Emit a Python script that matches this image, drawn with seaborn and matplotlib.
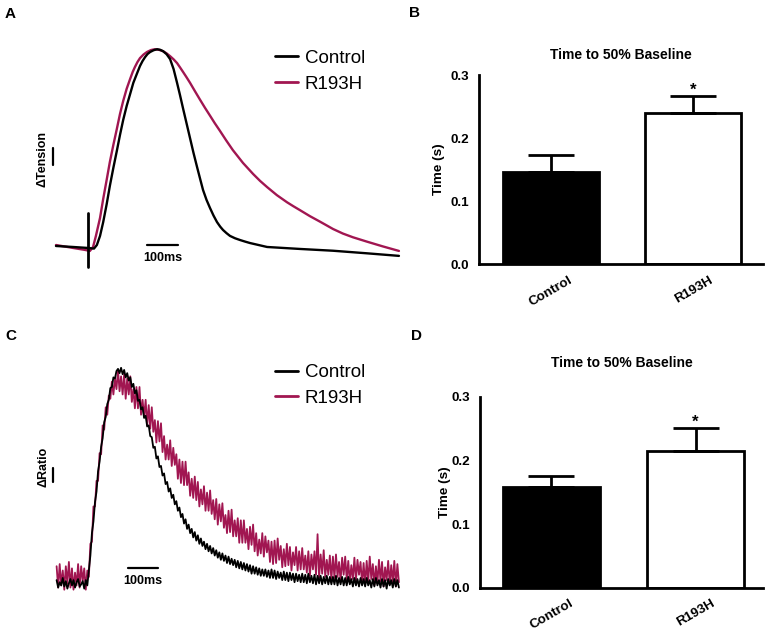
import numpy as np
import pandas as pd
import matplotlib
matplotlib.use("Agg")
import matplotlib.pyplot as plt
import seaborn as sns

# ---------------- data ----------------
groups = ["Control", "R193H"]

# Panel A: normalised tension traces (% of peak) vs time (ms)
ctrlA_t = [-101, -47, 0, 19, 28, 38, 48, 59, 69, 80, 91, 101, 111, 122, 133,
           143, 154, 164, 172, 180, 188, 196, 207, 218, 228, 237, 248, 259,
           270, 281, 290, 300, 311, 322, 333, 344, 354, 363, 374, 385, 396,
           407, 417, 426, 437, 448, 464, 480, 496, 511, 538, 565, 617, 669,
           773, 880, 981]
ctrlA_v = [0.5, 0, -0.5, -0.8, 1, 5.6, 12.6, 21.7, 30.9, 40, 48.6, 56.7, 64.2,
           71.3, 77.4, 83, 87.5, 91.5, 94, 96, 97.6, 98.6, 99.5, 100, 99.7, 99,
           97.5, 95, 90, 83, 77, 70, 62.5, 55, 47.5, 40.5, 34.3, 28.8, 23.8,
           19.7, 15.9, 12.6, 10.3, 8.6, 7, 5.6, 4.4, 3.5, 2.7, 2, 1, 0, -0.5,
           -1, -1.9, -3.2, -4.5]
redA_t = [-101, -47, -9, 6, 16, 25, 38, 48, 59, 69, 80, 91, 101, 111, 122, 133,
          141, 148, 156, 164, 175, 186, 199, 211, 224, 237, 248, 259, 270, 281,
          290, 300, 311, 322, 337, 353, 369, 385, 400, 416, 436, 457, 489, 521,
          543, 565, 596, 628, 648, 669, 700, 732, 752, 773, 804, 836, 858, 880,
          930, 981]
redA_v = [1, -0.5, -1.5, -2, 0, 5.6, 14.7, 24.3, 34, 43, 51.6, 59.7, 67.3, 73.8,
          80, 85, 88.5, 91, 93.5, 95.5, 97.3, 98.6, 99.6, 100, 99.7, 99, 97.9,
          96.5, 94.9, 93, 90.9, 88.5, 85.8, 83, 78.9, 74.6, 70.4, 66.4, 62.6,
          58.8, 53.9, 49, 42.5, 36.9, 33.4, 30.3, 26.2, 22.6, 20.6, 18.6, 15.6,
          12.8, 11, 9.1, 6.8, 4.9, 3.8, 2.7, 0.3, -2]
stim_t = [0, 0]
stim_v = [17.2, -10.1]

# Panel C: normalised Ca2+ ratio traces (% of peak), one sample every 5 ms from -100 ms
tC = np.arange(-100, 1016, 5)
ctrlC_v = [
    1.5, -2, 0.5, -1, 2.5, -1.5, 1, -2.5, 0, 2, -1, 1.5, -2, 0.5, 2, -1.5, -0.5, 1, -2.5, 1.5,
    -1, 6, 13, 23.5, 29, 38, 43, 52.5, 57, 64, 68, 75.5, 78, 84, 86, 91.5, 92, 96.5, 96, 99.5,
    100.5, 98.5, 101, 98, 100, 96.5, 98.5, 95, 96.5, 92, 93.5, 89, 90.5, 85.5, 86, 81.5, 82.5, 77.5, 78.5, 73.5,
    74, 69, 68.5, 63.5, 64, 58.5, 59.5, 54.5, 55, 50.5, 51.5, 46.5, 47.5, 43, 44.5, 40, 41.5, 37, 38.5, 34,
    35.5, 31, 32.5, 28, 30, 25.5, 27.5, 23.5, 25.5, 21.5, 24, 20, 22.5, 18.5, 21, 17.5, 19.5, 16, 18.5, 15,
    17.5, 14, 16.5, 13, 15.5, 12, 14.5, 11, 14, 10.5, 13, 9.5, 12.5, 9, 11.5, 8.5, 11, 7.5, 10.5, 7,
    10, 6.5, 9.5, 6, 9, 5.5, 8.5, 4.5, 8, 4.5, 7.5, 4, 7, 3.5, 6.5, 3.5, 6.5, 3, 6, 2.5,
    6.5, 2.5, 6, 2, 5.5, 2.5, 5, 1.5, 5.5, 1.5, 5, 1, 5, 1.5, 4.5, 0.5, 4.5, 1, 4, 0.5,
    4.5, 0.5, 4, 0, 4.5, 0.5, 3.5, 0, 4, -0.5, 3.5, 0, 3.5, -0.5, 3, 0, 3.5, -0.5, 3, -0.5,
    3, -0.5, 3.5, -1, 2.5, -0.5, 3, -1, 2.5, -1, 3, -0.5, 2, -1.5, 2.5, -1, 2, -1.5, 2.5, -1,
    2, -1.5, 2.5, -1, 1.5, -2, 2, -1.5, 2.5, -1, 1.5, -2, 2, -1.5, 1.5, -2.5, 2, -1, 1.5, -2,
    2, -1.5, 1.5, -2]
redC_v = [
    8, -2, 9, -1, 6, -3, 8, 0, 10, -2, 7, -3, 5, -1, 9, -2, 8, 1, 7, -3,
    6, 3, 18.5, 19.5, 36, 36, 48, 48, 61, 60.5, 74, 72, 82.5, 79, 88, 86.5, 94.5, 88.5, 96, 91,
    100, 90, 97, 88.5, 98, 86.5, 96, 88.5, 97, 85, 91, 82, 92, 82, 92, 79, 86, 78, 86, 74,
    83.5, 72.5, 82.5, 71, 76.5, 66, 76, 66.5, 75, 61.5, 69, 58, 65, 58, 67, 55, 63.5, 55.5, 60.5, 49,
    58, 47, 57, 46, 57, 46, 52, 41, 49, 40, 50, 39, 47.5, 36, 44, 37, 45.5, 34, 42.5, 34,
    43.5, 32.5, 39, 30, 39.5, 27.5, 37, 29, 37.5, 26, 32, 23.5, 34, 24, 34.5, 22, 29.5, 22, 30.5, 19,
    29.5, 19, 29.5, 19, 25.5, 16, 26.5, 18, 27.5, 15, 23.5, 13, 20.5, 14, 23.5, 12.5, 22, 14.5, 20, 10,
    19.5, 9, 20, 9.5, 21, 11, 17.5, 7.5, 16, 8, 18.5, 8.5, 17, 6, 14.5, 8.5, 17, 6, 15, 6.5,
    16.5, 6.5, 13, 5, 15, 3.5, 13.5, 6.5, 15, 4, 23, 2.5, 13.5, 4.5, 15.5, 3, 11, 4, 13, 1.5,
    12.5, 2.5, 13.5, 3, 10, 1, 12, 4, 12.5, 1.5, 10.5, 0.5, 8.5, 2, 12, 1, 11, 4, 10, -0.5,
    9.5, -0.5, 10.5, 0.5, 12.5, 2, 9, -1, 8, 0, 11, 1, 10, -1.5, 7.5, 1.5, 10.5, -0.5, 8.5, 0.5,
    10.5, -1.5, 9, 0.5]

# Panels B and D: time to 50% baseline (s), mean and SEM
timeB = [0.146, 0.239]
semB = [0.028, 0.028]
timeD = [0.158, 0.215]
semD = [0.017, 0.036]
yticks = [0.0, 0.1, 0.2, 0.3]
ytick_labels = ["0.0", "0.1", "0.2", "0.3"]

# ---------------- style ----------------
sns.set_style("white")
plt.rcParams["font.family"] = ["Liberation Sans", "DejaVu Sans"]
for key in ("text.color", "axes.labelcolor", "xtick.color", "ytick.color",
            "axes.edgecolor"):
    plt.rcParams[key] = "black"

W, H = 772, 634
RED = "#A11651"
palette = {"Control": "black", "R193H": RED}
fig = plt.figure(figsize=(W / 100, H / 100), dpi=100)


def rect(x0, y0, x1, y1):
    return [x0 / W, 1 - y1 / H, (x1 - x0) / W, (y1 - y0) / H]


def trace_panel(ax, df, lw):
    sns.lineplot(data=df, x="t", y="v", hue="group", hue_order=["R193H", "Control"],
                 palette=palette, linewidth=lw, errorbar=None, estimator=None,
                 sort=False, ax=ax)


def legend_panel(ax, y_mid):
    handles, labels = ax.get_legend_handles_labels()
    order = [labels.index("Control"), labels.index("R193H")]
    leg = ax.legend([handles[i] for i in order], [labels[i] for i in order],
                    loc="center left", bbox_to_anchor=(275 / W, 1 - y_mid / H),
                    bbox_transform=fig.transFigure, frameon=False, fontsize=13.5,
                    handlelength=1.25, handletextpad=0.35, labelspacing=0.45,
                    borderpad=0, borderaxespad=0)
    for ln in leg.get_lines():
        ln.set_linewidth(2.0)


# ---------------- Panel A ----------------
axA = fig.add_axes(rect(40, 35, 410, 280))
dfA = pd.concat([
    pd.DataFrame({"t": redA_t, "v": redA_v, "group": "R193H"}),
    pd.DataFrame({"t": ctrlA_t, "v": ctrlA_v, "group": "Control"}),
])
trace_panel(axA, dfA, 1.7)
axA.plot(stim_t, stim_v, color="black", lw=2.0)
axA.set_xlim(-151.4, 1015.9)
axA.set_ylim(-16.7, 107.2)
legend_panel(axA, 71.2)
axA.plot([185, 285], [1, 1], color="black", lw=1.6)
axA.text(235, -5.8, "100ms", ha="center", va="center", fontsize=9, fontweight="bold")
axA.plot([-110, -110], [41.5, 49.9], color="black", lw=1.6)
axA.text(-143, 44.5, "\u0394Tension", ha="center", va="center", rotation=90,
         fontsize=9, fontweight="bold")
axA.axis("off")

# ---------------- Panel C ----------------
axC = fig.add_axes(rect(40, 355, 410, 610))
dfC = pd.concat([
    pd.DataFrame({"t": tC, "v": redC_v, "group": "R193H"}),
    pd.DataFrame({"t": tC, "v": ctrlC_v, "group": "Control"}),
])
trace_panel(axC, dfC, 1.3)
axC.set_xlim(-154.1, 1051.1)
axC.set_ylim(-12.52, 107.0)
legend_panel(axC, 385.5)
axC.plot([131.6, 231.3], [7.0, 7.0], color="black", lw=1.6)
axC.text(181, 1.3, "100ms", ha="center", va="center", fontsize=9, fontweight="bold")
axC.plot([-112.7, -112.7], [47.5, 54.0], color="black", lw=1.6)
axC.text(-143, 54.5, "\u0394Ratio", ha="center", va="center", rotation=90,
         fontsize=9, fontweight="bold")
axC.axis("off")


# ---------------- Bar panels ----------------
def bar_panel(ax, vals, sems, xlim, ylabel_x, title_pad):
    df = pd.DataFrame({"group": groups, "time": vals})
    sns.barplot(data=df, x="group", y="time", hue="group", order=groups,
                palette={"Control": "black", "R193H": "white"}, edgecolor="black",
                linewidth=2, width=0.674, legend=False, ax=ax)
    ax.errorbar([0, 1], vals, yerr=[[0, 0], sems], fmt="none", ecolor="black",
                elinewidth=2, capsize=16.5, capthick=2, zorder=1)
    ax.text(1, vals[1] + sems[1] + 0.001, "*", ha="center", va="baseline",
            fontsize=12, fontweight="bold")
    ax.set_xlim(*xlim)
    ax.set_ylim(0, 0.3)
    ax.set_yticks(yticks)
    ax.set_yticklabels(ytick_labels, fontsize=9.7, fontweight="bold")
    ax.set_xticks([0, 1])
    ax.set_xticklabels(groups, rotation=30, ha="center", fontsize=9.7,
                       fontweight="bold")
    ax.set_xlabel("")
    ax.set_ylabel("Time (s)", fontsize=9.7, fontweight="bold")
    ax.yaxis.set_label_coords(ylabel_x, 0.5)
    ax.set_title("Time to 50% Baseline", fontsize=10, fontweight="bold",
                 pad=title_pad)
    sns.despine(ax=ax)
    for s in ("left", "bottom"):
        ax.spines[s].set_linewidth(2)
    ax.tick_params(width=2, length=5, direction="out", pad=2)


axB = fig.add_axes(rect(479, 75, 763, 264.3))
bar_panel(axB, timeB, semB, (-0.505, 1.488), -0.12, 11.5)

axD = fig.add_axes(rect(480, 396.7, 763, 587.7))
bar_panel(axD, timeD, semD, (-0.495, 1.467), -0.103, 21.5)

# ---------------- panel letters ----------------
for letter, (x, y) in {"A": (10.5, 14), "B": (415, 13), "C": (11, 336),
                       "D": (416, 336)}.items():
    fig.text(x / W, 1 - y / H, letter, ha="center", va="center", fontsize=11,
             fontweight="bold")

fig.savefig("out.png", dpi=100)
